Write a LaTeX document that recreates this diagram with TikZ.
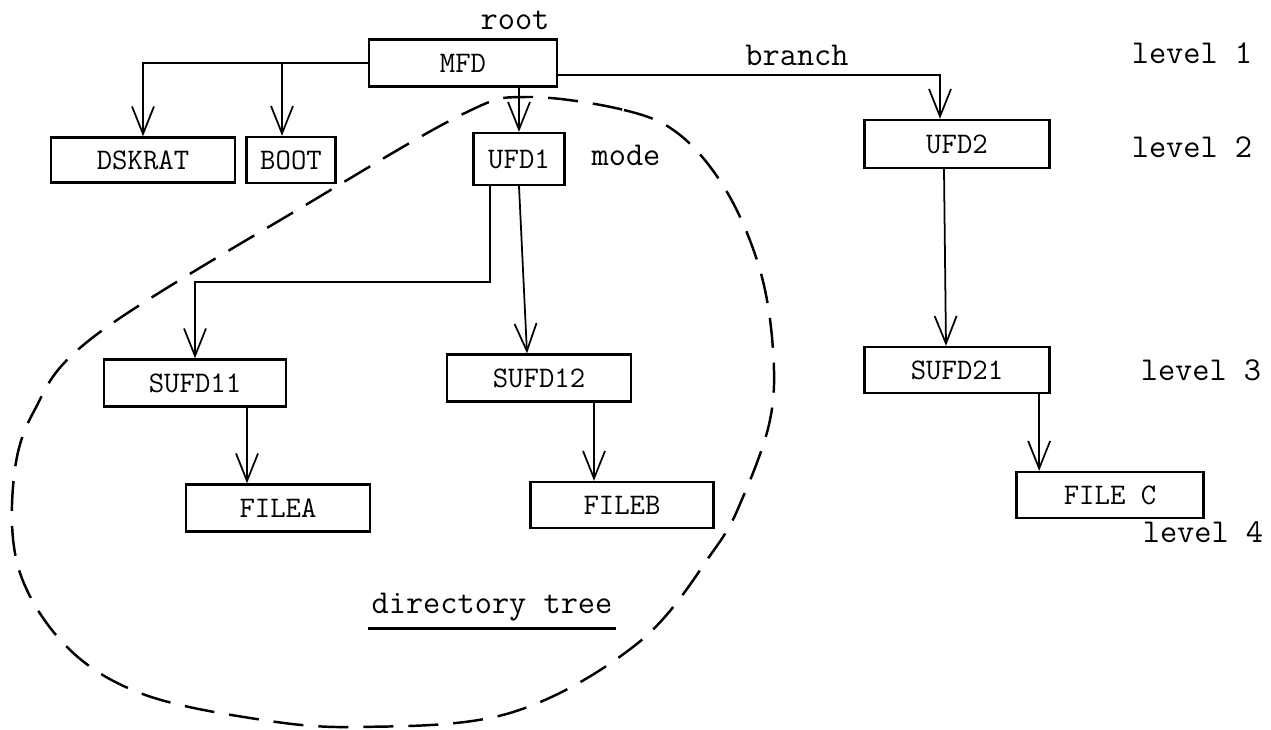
\documentclass[tikz,border=0pt]{standalone}
\usepackage{tikz}
\usetikzlibrary{arrows.meta,positioning,calc}
\tikzset{fbox/.style={draw, line width=1.3pt, inner sep=0pt, minimum height=0.94cm, font=\ttfamily\fontsize{17}{20}\selectfont}}
\tikzset{lbl/.style={font=\ttfamily\fontsize{19}{22}\selectfont}}
\tikzset{arr/.style={draw, -{Straight Barb[length=0.55cm,width=0.44cm]}, line width=1pt}}

\begin{document}
\begin{tikzpicture}
	\useasboundingbox (0,0) rectangle (25.42,14.6);
	\node[lbl] (root) at (10.30,14.20) {root};
	\node[fbox,minimum width=3.76cm] (MFD) at (9.26,13.34) {MFD};
	\node[lbl] (branch) at (15.94,13.50) {branch};

	\node[fbox,minimum width=3.68cm,minimum height=0.90cm] (DSKRAT) at (2.86,11.40) {DSKRAT};
	\node[fbox,minimum width=1.78cm,minimum height=0.92cm] (BOOT) at (5.82,11.40) {BOOT};
	\node[fbox,minimum width=1.82cm,minimum height=1.04cm] (UFD1) at (10.38,11.42) {UFD1};
	\node[lbl] (mode) at (12.52,11.50) {mode};
	\node[fbox,minimum width=3.70cm,minimum height=0.96cm] (UFD2) at (19.14,11.72) {UFD2};

	\node[fbox,minimum width=3.64cm] (SUFD11) at (3.90,6.94) {SUFD11};
	\node[fbox,minimum width=3.68cm] (SUFD12) at (10.78,7.04) {SUFD12};
	\node[fbox,minimum width=3.70cm,minimum height=0.92cm] (SUFD21) at (19.14,7.20) {SUFD21};

	\node[fbox,minimum width=3.68cm] (FILEA) at (5.56,4.44) {FILEA};
	\node[fbox,minimum width=3.66cm,minimum height=0.92cm] (FILEB) at (12.44,4.50) {FILEB};
	\node[fbox,minimum width=3.74cm,minimum height=0.92cm] (FILEC) at (22.20,4.70) {FILE C};

	\node[lbl] (lev1) at (23.84,13.54) {level 1};
	\node[lbl] (lev2) at (23.84,11.66) {level 2};
	\node[lbl] (lev3) at (24.02,7.20) {level 3};
	\node[lbl] (lev4) at (24.06,3.96) {level 4};

	\node[lbl] (tree) at (9.84,2.46) {directory tree};
	\draw[line width=1.6pt] ($(tree.south west)+(0.05,-0.02)$) -- ($(tree.south east)+(-0.05,-0.02)$);

	\coordinate (jB) at (5.64,13.34);
	\begin{scope}[arr]
		\draw (MFD.west) -| (DSKRAT.north);
		\draw (jB) -- (jB |- BOOT.north);
		\draw (UFD1.north |- MFD.south) -- (UFD1.north);
		\draw ([yshift=-0.24cm]MFD.east) -| ([xshift=-0.34cm]UFD2.north);
		\draw ([xshift=-0.26cm]UFD2.south) -- ([xshift=-0.22cm]SUFD21.north);
		\draw ([xshift=-0.23cm]SUFD21.south east) -- ([xshift=-0.23cm]SUFD21.south east |- FILEC.north);
		\draw ([xshift=-0.58cm]UFD1.south) -- ++(0,-1.92) -| (SUFD11.north);
		\draw (UFD1.south) -- ([xshift=-0.24cm]SUFD12.north);
		\draw ([xshift=1.04cm]SUFD11.south) -- ([xshift=1.04cm]SUFD11.south |- FILEA.north);
		\draw ([xshift=1.10cm]SUFD12.south) -- ([xshift=1.10cm]SUFD12.south |- FILEB.north);
	\end{scope}

	% directory tree outline
	\draw[line width=1.4pt, dash pattern=on 0.6cm off 0.3cm] plot[smooth cycle, tension=0.6] coordinates {
		(10.54,12.66) (12.48,12.40) (13.60,11.90) (14.54,10.76) (15.20,9.20) (15.46,7.60)
		(15.40,6.20) (14.86,4.66) (14.28,3.60) (12.76,1.74) (10.20,0.34) (7.14,0.06)
		(5.00,0.24) (2.80,0.74) (1.34,1.66) (0.40,3.14) (0.26,4.86) (0.66,6.34)
		(1.92,7.90) (6.28,10.60) (9.30,12.34)};
\end{tikzpicture}
\end{document}
